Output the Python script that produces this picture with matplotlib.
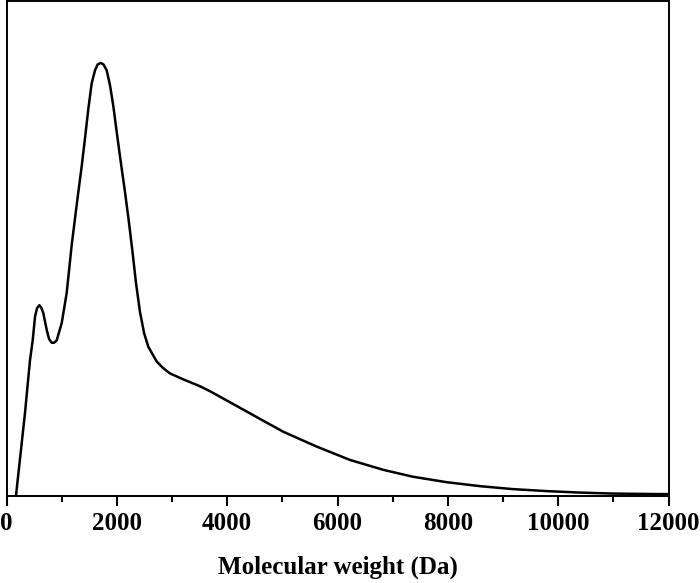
import numpy as np
import matplotlib.pyplot as plt
from matplotlib.ticker import MultipleLocator

# molecular weight distribution (arbitrary intensity units)
mw = [172, 335, 426, 475, 517, 553, 595, 631, 667, 729, 770, 819, 861, 910,
      1001, 1091, 1182, 1260, 1302, 1363, 1423, 1483, 1544, 1604, 1653, 1708,
      1758, 1816, 1876, 1936, 1998, 2072, 2148, 2221, 2284, 2347, 2420, 2493,
      2570, 2723, 2837, 2964, 3205, 3508, 3689, 4111, 4595, 5018, 5623, 6227,
      6830, 7369, 7980, 8583, 9181, 9792, 10396, 10994, 11786, 12000]
intensity = [0.0, 0.167, 0.274, 0.314, 0.362, 0.379, 0.385, 0.380, 0.369,
             0.335, 0.317, 0.309, 0.309, 0.314, 0.349, 0.410, 0.507, 0.577,
             0.614, 0.666, 0.723, 0.782, 0.834, 0.860, 0.872, 0.875, 0.872,
             0.860, 0.830, 0.788, 0.735, 0.674, 0.614, 0.551, 0.493, 0.430,
             0.371, 0.329, 0.301, 0.271, 0.258, 0.247, 0.235, 0.221, 0.211,
             0.185, 0.155, 0.129, 0.099, 0.072, 0.052, 0.038, 0.027, 0.019,
             0.013, 0.009, 0.006, 0.004, 0.003, 0.003]
xticks = [0, 2000, 4000, 6000, 8000, 10000, 12000]

plt.rcParams['font.family'] = ['Liberation Serif', 'DejaVu Serif']

fig = plt.figure(figsize=(7, 5.83), dpi=100)
ax = fig.add_axes([0.0093, 0.150, 0.9457, 0.848])
ax.plot(mw, intensity, color='black', lw=1.8, solid_joinstyle='round')

ax.set_xlim(0, 12000)
ax.set_ylim(0, 1)
ax.set_xticks(xticks)
ax.set_xticklabels([str(t) for t in xticks], fontsize=18, fontweight='bold')
ax.xaxis.set_minor_locator(MultipleLocator(1000))
ax.tick_params(axis='x', which='major', direction='out', length=7, width=1.5, pad=5)
ax.tick_params(axis='x', which='minor', direction='out', length=4, width=1.5)
ax.set_yticks([])
for s in ax.spines.values():
    s.set_linewidth(1.4)
ax.set_xlabel('Molecular weight (Da)', fontsize=18, fontweight='bold', labelpad=15)

fig.savefig('out.png', dpi=100)
